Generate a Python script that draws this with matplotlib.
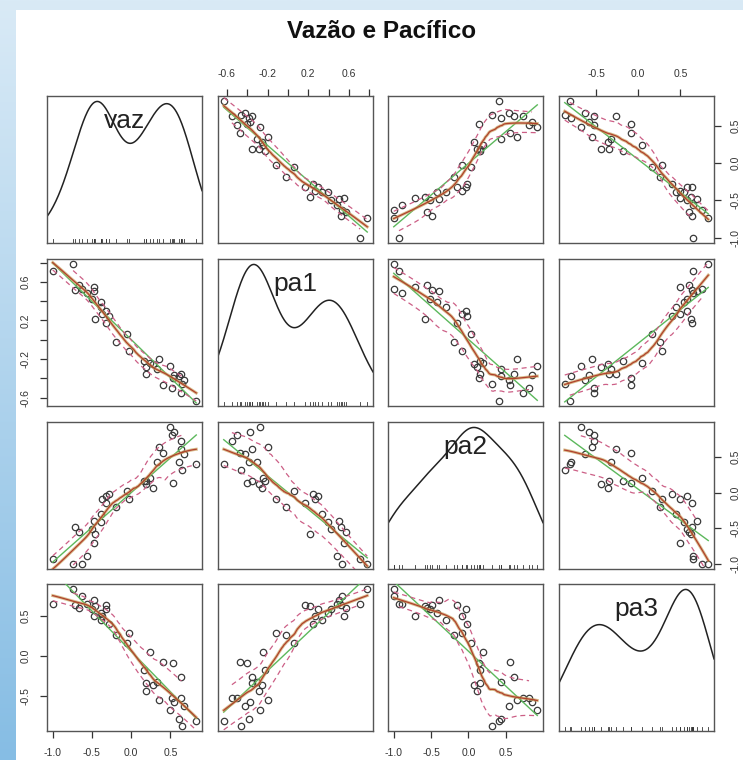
import numpy as np
import matplotlib
matplotlib.use('Agg')
import matplotlib.pyplot as plt
from matplotlib.colors import LinearSegmentedColormap
from matplotlib.patches import Rectangle
from matplotlib.transforms import blended_transform_factory

plt.rcParams['font.family'] = ['Liberation Sans', 'DejaVu Sans']

title = 'Vazão e Pacífico'
names = ['vaz', 'pa1', 'pa2', 'pa3']

vaz = [0.83, 0.68, 0.65, 0.64, 0.64, 0.61, 0.55, 0.53, 0.52, 0.49, 0.40, 0.35,
       0.33, 0.28, 0.24, 0.19, 0.19, 0.17, -0.03, -0.05, -0.19, -0.28, -0.32,
       -0.32, -0.37, -0.39, -0.39, -0.46, -0.47, -0.48, -0.50, -0.56, -0.63,
       -0.66, -0.71, -0.74, -1.00]
pa1 = [-0.63, -0.42, -0.46, -0.55, -0.35, -0.38, -0.37, -0.40, -0.50, -0.27,
       -0.47, -0.20, -0.30, -0.25, -0.24, -0.35, -0.28, -0.22, -0.12, 0.06,
       -0.02, 0.25, 0.17, 0.30, 0.27, 0.34, 0.39, 0.22, 0.55, 0.50, 0.42, 0.48,
       0.53, 0.57, 0.52, 0.78, 0.71]
pa2 = [0.41, 0.54, 0.32, 0.73, 0.61, 0.43, 0.85, 0.14, 0.81, 0.92, 0.56, 0.65,
       0.43, 0.07, 0.20, 0.16, 0.12, 0.16, -0.09, 0.03, -0.20, -0.02, -0.15,
       -0.04, -0.09, -0.30, -0.42, -0.58, -0.71, -0.40, -0.51, -0.89, -1.00,
       -0.56, -0.49, -1.00, -0.93]
pa3 = [-0.81, -0.63, -0.87, -0.52, -0.26, -0.79, -0.58, -0.09, -0.52, -0.68,
       -0.08, -0.55, -0.32, -0.36, 0.05, -0.34, -0.44, -0.18, 0.28, 0.16, 0.26,
       0.40, 0.64, 0.58, 0.50, 0.45, 0.54, 0.62, 0.50, 0.70, 0.58, 0.65, 0.75,
       0.60, 0.64, 0.83, 0.65]

# axis ticks and which of them get a label
ticks = {
    'vaz': [-1.0, -0.5, 0.0, 0.5],
    'pa1': [-0.6, -0.4, -0.2, 0.0, 0.2, 0.4, 0.6, 0.8],
    'pa2': [-1.0, -0.5, 0.0, 0.5],
    'pa3': [-0.5, 0.0, 0.5],
}
tick_labels = {
    'vaz': ['-1.0', '-0.5', '0.0', '0.5'],
    'pa1': ['-0.6', '', '-0.2', '', '0.2', '', '0.6', ''],
    'pa2': ['-1.0', '-0.5', '0.0', '0.5'],
    'pa3': ['-0.5', '0.0', '0.5'],
}

data = {'vaz': np.array(vaz), 'pa1': np.array(pa1),
        'pa2': np.array(pa2), 'pa3': np.array(pa3)}

# layout in pixels
W, H = 743, 760
col_left = [47, 218, 388, 559]
row_top = [96, 259, 422, 584]
pw, ph = 155, 147

ink = '#333333'
frame = '#555555'


def loess(x, y, xs, span=0.5, degree=1):
    n = len(x)
    q = max(int(np.ceil(span * n)), 2)
    out = []
    for x0 in xs:
        d = np.abs(x - x0)
        h = np.sort(d)[q - 1] + 1e-9
        w = np.clip(1 - (d / h) ** 3, 0, None) ** 3
        if degree == 0:
            out.append(np.sum(w * y) / np.sum(w))
        else:
            X = np.column_stack([np.ones(n), x - x0])
            A = (X * w[:, None]).T @ X
            b = (X * w[:, None]).T @ y
            out.append(np.linalg.lstsq(A, b, rcond=None)[0][0])
    return np.array(out)


def limits(v):
    r = v.max() - v.min()
    return v.min() - 0.04 * r, v.max() + 0.04 * r


def kde(v, grid):
    n = len(v)
    iqr = np.subtract(*np.percentile(v, [75, 25]))
    bw = 0.9 * min(v.std(ddof=1), iqr / 1.34) * n ** -0.2
    z = (grid[:, None] - v[None, :]) / bw
    return np.exp(-0.5 * z ** 2).sum(axis=1) / (n * bw * np.sqrt(2 * np.pi))


fig = plt.figure(figsize=(W / 100, H / 100), dpi=100)

# blue page background with white sheet
bg = fig.add_axes([0, 0, 1, 1], zorder=-10)
cmap = LinearSegmentedColormap.from_list('bg', ['#d9eaf6', '#86bde4'])
bg.imshow(np.linspace(0, 1, 256).reshape(-1, 1), cmap=cmap, aspect='auto',
          extent=[0, 1, 0, 1], origin='upper')
bg.add_patch(Rectangle((16 / W, 0), 1 - 16 / W, 1 - 10 / H,
                       facecolor='white', edgecolor='none'))
bg.set_xlim(0, 1)
bg.set_ylim(0, 1)
bg.axis('off')

fig.text(382 / W, 1 - 32 / H, title, ha='center', va='center',
         fontsize=17.5, fontweight='bold', color='#111111')

for i, yn in enumerate(names):
    for j, xn in enumerate(names):
        ax = fig.add_axes([col_left[j] / W, 1 - (row_top[i] + ph) / H,
                           pw / W, ph / H])
        x = data[xn]
        y = data[yn]
        xlim = limits(x)
        ax.set_xlim(*xlim)

        if i == j:
            grid = np.linspace(xlim[0], xlim[1], 300)
            dens = kde(x, grid)
            ax.plot(grid, dens, color='#222222', lw=1.1)
            dm = dens.max()
            ax.set_ylim(-0.04 * dm, 1.04 * dm)
            trans = blended_transform_factory(ax.transData, ax.transAxes)
            for v in x:
                ax.plot([v, v], [0, 0.03], color=ink, lw=0.6, transform=trans)
            ax.text(0.5, 0.83, xn, transform=ax.transAxes, ha='center',
                    va='center', fontsize=19, color='#222222')
        else:
            ylim = limits(y)
            ax.set_ylim(*ylim)
            ax.plot(x, y, 'o', mfc='none', mec='#3a3a3a', ms=4.6, mew=0.9,
                    zorder=2)
            grid = np.linspace(x.min(), x.max(), 120)
            # linear fit
            k, c = np.polyfit(x, y, 1)
            ax.plot(grid, k * grid + c, color='#5cb85c', lw=1.0, zorder=3)
            # smooth and spread
            fit = loess(x, y, grid)
            res = y - loess(x, y, x)
            for sgn in (1, -1):
                m = res * sgn > 0
                g = np.linspace(x[m].min(), x[m].max(), 80)
                s = np.sqrt(loess(x[m], res[m] ** 2, g, degree=0))
                ax.plot(g, loess(x, y, g) + sgn * s, color='#cc5f86', lw=0.9,
                        ls=(0, (4, 3)), zorder=3)
            ax.plot(grid, fit, color='#c9a25e', lw=2.2, alpha=0.7, zorder=3)
            ax.plot(grid, fit, color='#b0402c', lw=0.9, zorder=4)

        for sp in ax.spines.values():
            sp.set_color(frame)
            sp.set_linewidth(1.0)
        ax.set_xticks([])
        ax.set_yticks([])

        # R pairs style alternating axes
        if i == 0 and j in (1, 3):
            ax.set_xticks(ticks[xn])
            ax.set_xticklabels(tick_labels[xn])
            ax.xaxis.tick_top()
        if i == 3 and j in (0, 2):
            ax.set_xticks(ticks[xn])
            ax.set_xticklabels(tick_labels[xn])
        if j == 0 and i in (1, 3):
            ax.set_yticks(ticks[yn])
            ax.set_yticklabels(tick_labels[yn])
            ax.tick_params(axis='y', labelrotation=90)
            for lab in ax.get_yticklabels():
                lab.set_va('center')
        if j == 3 and i in (0, 2):
            ax.set_yticks(ticks[yn])
            ax.set_yticklabels(tick_labels[yn])
            ax.yaxis.tick_right()
            ax.tick_params(axis='y', labelrotation=90)
            for lab in ax.get_yticklabels():
                lab.set_va('center')
        ax.tick_params(length=5, width=0.9, pad=7, labelsize=7.5,
                       colors=ink)

fig.savefig('out.png', dpi=100)
